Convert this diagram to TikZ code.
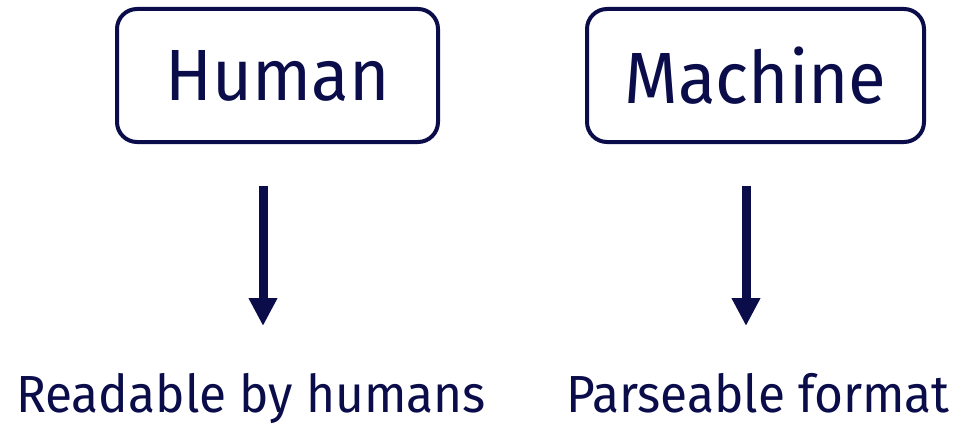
\documentclass[tikz,border=0pt]{standalone}
\usepackage{fontspec}
\setmainfont{Fira Sans}[FakeStretch=0.95]
\usetikzlibrary{arrows.meta}
\definecolor{navy}{RGB}{10,13,74}
\tikzset{
  box/.style={draw=navy, line width=4pt, rounded corners=20pt, inner sep=0pt,
    text=navy, font=\fontsize{72.6}{80}\selectfont},
  caption/.style={text=navy, inner sep=0pt, anchor=base, font=\fontsize{52.2}{60}\selectfont},
  down/.style={draw=navy, line width=9pt, -{Triangle[width=27pt,length=28pt]}}
}
\begin{document}
\begin{tikzpicture}[x=1pt,y=1pt]
  \useasboundingbox (0,0) rectangle (955,424);
  \fill[white] (0,0) rectangle (955,424);
  % top boxes
  \node[box, minimum width=321pt, minimum height=133pt] (human) at (277.5,348.5) {Human};
  \node[box, minimum width=337pt, minimum height=133pt] (machine) at (755.5,348.5) {Machine};
  % captions
  \node[caption] (readable) at (251,12) {Readable by humans};
  \node[caption] (parseable) at (758,12) {Parseable format};
  % arrow end points
  \coordinate (h1) at (263,238);
  \coordinate (h2) at (263,98);
  \coordinate (m1) at (746,238);
  \coordinate (m2) at (746,98);
  \draw[down] (h1) -- (h2);
  \draw[down] (m1) -- (m2);
\end{tikzpicture}
\end{document}
